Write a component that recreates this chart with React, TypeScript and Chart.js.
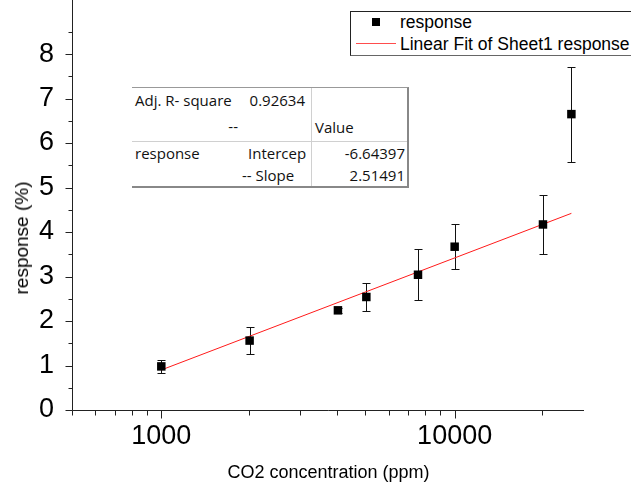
import React, { useEffect, useRef } from "react";
import { Chart, registerables } from "chart.js";

Chart.register(...registerables);

// ---- data ----
const concentrations = [1000, 2000, 4000, 5000, 7500, 10000, 20000, 25000];
const responses = [0.98, 1.56, 2.24, 2.54, 3.04, 3.67, 4.17, 6.65];
const responseErrors = [0.14, 0.31, 0.05, 0.32, 0.57, 0.51, 0.67, 1.07];
const fitX = [1000, 25000];
const fitY = [0.9, 4.42];

const tableAdjR2 = "0.92634";
const tableIntercept = "-6.64397";
const tableSlope = "2.51491";

const xMajorTicks = [1000, 10000];
const xMinorTicks = [500, 600, 700, 800, 900, 2000, 3000, 4000, 5000, 6000, 7000, 8000, 9000, 20000];
const yMajorTicks = [0, 1, 2, 3, 4, 5, 6, 7, 8];
const yMinorTicks = [0.5, 1.5, 2.5, 3.5, 4.5, 5.5, 6.5, 7.5, 8.5];

const ARIAL = '"Liberation Sans", Arial, sans-serif';
const TABLE_FONT = '"Open Sans", "Noto Sans", sans-serif';

const errorBarsPlugin = {
  id: "errorBars",
  beforeDatasetsDraw(chart: any) {
    const { ctx, scales } = chart;
    const xs = scales.x;
    const ys = scales.y;
    ctx.save();
    ctx.strokeStyle = "#111";
    ctx.lineWidth = 1;
    concentrations.forEach((c, i) => {
      const px = Math.round(xs.getPixelForValue(c)) + 0.5;
      const top = Math.round(ys.getPixelForValue(responses[i] + responseErrors[i])) + 0.5;
      const bot = Math.round(ys.getPixelForValue(responses[i] - responseErrors[i])) + 0.5;
      ctx.beginPath();
      ctx.moveTo(px, top);
      ctx.lineTo(px, bot);
      ctx.moveTo(px - 4, top);
      ctx.lineTo(px + 4, top);
      ctx.moveTo(px - 4, bot);
      ctx.lineTo(px + 4, bot);
      ctx.stroke();
    });
    ctx.restore();
  },
};

const axesPlugin = {
  id: "originAxes",
  afterDraw(chart: any) {
    const { ctx, scales, chartArea } = chart;
    const xs = scales.x;
    const ys = scales.y;
    const ax = Math.round(chartArea.left) - 0.5;
    const ay = Math.round(chartArea.bottom) + 0.5;
    ctx.save();
    ctx.strokeStyle = "#222";
    ctx.lineWidth = 1;
    ctx.beginPath();
    ctx.moveTo(ax, 0);
    ctx.lineTo(ax, ay);
    ctx.moveTo(ax, ay);
    ctx.lineTo(chartArea.right, ay);
    yMajorTicks.forEach((v) => {
      const py = Math.round(ys.getPixelForValue(v)) + 0.5;
      ctx.moveTo(ax - 7, py);
      ctx.lineTo(ax, py);
    });
    yMinorTicks.forEach((v) => {
      const py = Math.round(ys.getPixelForValue(v)) + 0.5;
      ctx.moveTo(ax - 4, py);
      ctx.lineTo(ax, py);
    });
    xMajorTicks.forEach((v) => {
      const px = Math.round(xs.getPixelForValue(v)) + 0.5;
      ctx.moveTo(px, ay);
      ctx.lineTo(px, ay + 8);
    });
    xMinorTicks.forEach((v) => {
      const px = Math.round(xs.getPixelForValue(v)) - 0.5;
      ctx.moveTo(px, ay);
      ctx.lineTo(px, ay + 5);
    });
    ctx.stroke();
    ctx.restore();
  },
};

function ChartCanvas() {
  const ref = useRef<HTMLCanvasElement | null>(null);
  useEffect(() => {
    if (!ref.current) return;
    const chart = new Chart(ref.current, {
      type: "scatter",
      data: {
        datasets: [
          {
            label: "response",
            data: concentrations.map((x, i) => ({ x, y: responses[i] })),
            pointStyle: "rect",
            pointRadius: 6,
            pointBackgroundColor: "#000",
            pointBorderWidth: 0,
            showLine: false,
          },
          {
            type: "line",
            label: "Linear Fit of Sheet1 response",
            data: fitX.map((x, i) => ({ x, y: fitY[i] })),
            borderColor: "#ff1a1a",
            borderWidth: 1,
            pointRadius: 0,
            fill: false,
          } as any,
        ],
      },
      options: {
        animation: false,
        responsive: false,
        devicePixelRatio: 1,
        layout: { padding: { top: 0, right: 47, bottom: 0, left: 0 } },
        plugins: { legend: { display: false }, tooltip: { enabled: false } },
        scales: {
          x: {
            type: "logarithmic",
            min: 500,
            max: 27600,
            grid: { display: false, drawTicks: false },
            border: { display: false },
            afterBuildTicks: (s: any) => {
              s.ticks = xMajorTicks.map((v) => ({ value: v }));
            },
            afterFit: (s: any) => {
              s.height = 83;
              s.paddingLeft = 0;
              s.paddingRight = 0;
            },
            ticks: {
              autoSkip: false,
              maxRotation: 0,
              padding: 10,
              color: "#000",
              font: { family: ARIAL, size: 27 },
              callback: (v: any) => String(v),
            },
            title: {
              display: true,
              text: "CO2 concentration (ppm)",
              color: "#000",
              font: { family: ARIAL, size: 18 },
              padding: { top: 0, bottom: 9 },
            },
          },
          y: {
            min: 0,
            max: 9.08,
            grid: { display: false, drawTicks: false },
            border: { display: false },
            afterBuildTicks: (s: any) => {
              s.ticks = yMajorTicks.map((v) => ({ value: v }));
            },
            afterFit: (s: any) => {
              s.width = 73;
              s.paddingTop = 0;
              s.paddingBottom = 0;
            },
            ticks: {
              padding: 19,
              color: "#000",
              font: { family: ARIAL, size: 27 },
              callback: (v: any) => String(v),
            },
          },
        },
      },
      plugins: [errorBarsPlugin, axesPlugin],
    });
    return () => chart.destroy();
  }, []);
  return <canvas ref={ref} width={631} height={493} style={{ position: "absolute", left: 0, top: 0 }} />;
}

const cell = (left: number, top: number, text: string, align: "left" | "right" = "left", width = 0) => (
  <div
    style={{
      position: "absolute",
      left: align === "left" ? left : left - width,
      top: top - 10,
      width: align === "left" ? undefined : width,
      textAlign: align,
      lineHeight: "20px",
      height: 20,
      fontFamily: TABLE_FONT,
      fontSize: 15,
      color: "#111",
      whiteSpace: "nowrap",
    }}
  >
    {text}
  </div>
);

export default function App() {
  return (
    <div style={{ position: "fixed", left: 0, top: 0, width: 631, height: 493, background: "#fff", overflow: "hidden" }}>
      <ChartCanvas />
      {/* y-axis title */}
      <div
        style={{
          position: "absolute",
          left: 22,
          top: 238,
          transform: "translate(-50%, -50%) rotate(-90deg)",
          fontFamily: ARIAL,
          fontSize: 19,
          lineHeight: "22px",
          whiteSpace: "nowrap",
          color: "#000",
        }}
      >
        response (%)
      </div>
      {/* legend */}
      <div
        style={{
          position: "absolute",
          left: 350,
          top: 11,
          width: 290,
          height: 43,
          borderTop: "1px solid #222",
          borderLeft: "1px solid #222",
          borderBottom: "1px solid #666",
          background: "#fff",
          fontFamily: ARIAL,
          fontSize: 17.5,
          color: "#000",
        }}
      >
        <div style={{ position: "absolute", left: 21, top: 6, width: 8, height: 8, background: "#000" }} />
        <div style={{ position: "absolute", left: 49, top: -1, lineHeight: "22px", whiteSpace: "nowrap" }}>response</div>
        <div style={{ position: "absolute", left: 5, top: 31, width: 40, height: 1, background: "#ff4d4d" }} />
        <div style={{ position: "absolute", left: 49, top: 21, lineHeight: "22px", whiteSpace: "nowrap" }}>
          Linear Fit of Sheet1 response
        </div>
      </div>
      {/* fit table */}
      <div
        style={{
          position: "absolute",
          left: 132,
          top: 87,
          width: 275,
          height: 98,
          borderTop: "1px solid #999",
          borderRight: "2px solid #888",
          borderBottom: "2px solid #888",
          background: "#fff",
        }}
      >
        <div style={{ position: "absolute", left: 179, top: 0, width: 1, height: 98, background: "#d0d0d0" }} />
        <div style={{ position: "absolute", left: 0, top: 53, width: 275, height: 1, background: "#d0d0d0" }} />
      </div>
      {cell(135, 100, "Adj. R- square")}
      {cell(305, 100, tableAdjR2, "right", 80)}
      {cell(238, 126, "--", "right", 40)}
      {cell(315, 127, "Value")}
      {cell(135, 153, "response")}
      {cell(248, 153, "Intercep")}
      {cell(405, 153, tableIntercept, "right", 90)}
      {cell(242, 175, "-- Slope")}
      {cell(405, 175, tableSlope, "right", 90)}
    </div>
  );
}
